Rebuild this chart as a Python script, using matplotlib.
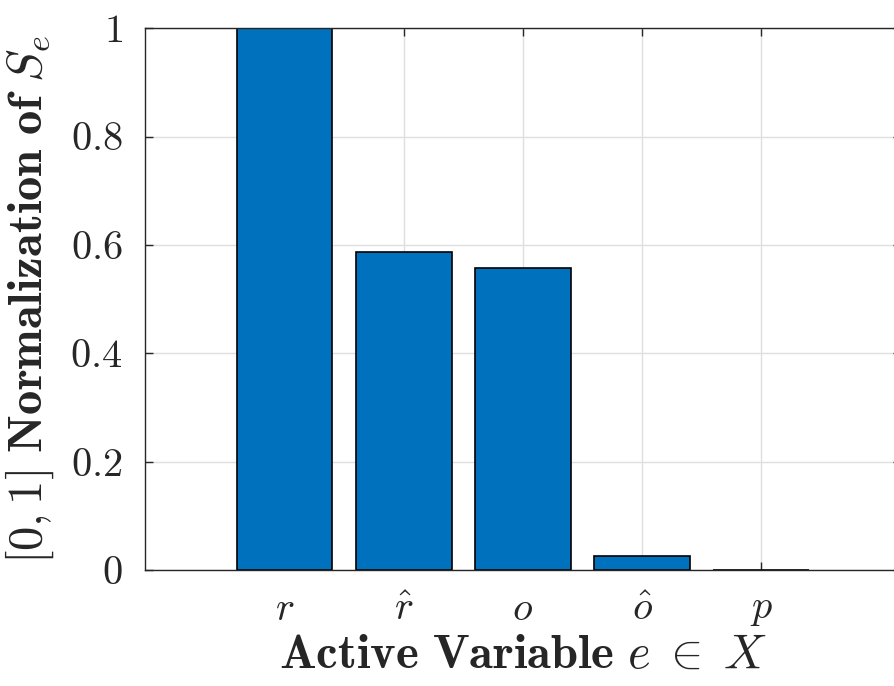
import numpy as np
import matplotlib.pyplot as plt

plt.rcParams['mathtext.fontset'] = 'cm'
plt.rcParams['font.family'] = 'serif'
plt.rcParams['font.serif'] = ['cmr10', 'DejaVu Serif']
plt.rcParams['axes.formatter.use_mathtext'] = True
plt.rcParams['text.color'] = '#262626'
plt.rcParams['axes.labelcolor'] = '#262626'
plt.rcParams['xtick.labelcolor'] = '#262626'
plt.rcParams['ytick.labelcolor'] = '#262626'

# normalized sensitivity per active variable
variables = [r'$r$', r'$\hat{r}$', r'$o$', r'$\hat{o}$', r'$p$']
scores = [1.0, 0.587, 0.558, 0.026, 0.001]
yticks = [0, 0.2, 0.4, 0.6, 0.8, 1]
ytick_labels = ['$0$', '$0.2$', '$0.4$', '$0.6$', '$0.8$', '$1$']

fig = plt.figure(figsize=(8.94, 6.86), dpi=100)
# axes runs slightly past the right edge of the figure
ax = fig.add_axes([0.162, 0.169, 0.846, 0.790])

pos = np.arange(1, len(scores) + 1)
ax.bar(pos, scores, width=0.8, color='#0072BD', edgecolor='black',
       linewidth=1.2, zorder=3)

ax.set_xlim(-0.176, 6.176)
ax.set_ylim(0, 1)
ax.set_xticks(pos)
ax.set_xticklabels(variables, fontsize=29)
ax.set_yticks(yticks)
ax.set_yticklabels(ytick_labels, fontsize=29)

ax.grid(True, color='#dfdfdf', linewidth=1.0, zorder=0)
ax.set_axisbelow(True)
for s in ax.spines.values():
    s.set_color('#262626')
    s.set_linewidth(1.0)
    s.set_zorder(4)
ax.tick_params(direction='in', length=6, width=1.0, color='#262626',
               top=True, right=True)
ax.tick_params(axis='y', pad=16)
ax.tick_params(axis='x', pad=16)

ax.set_xlabel(r'$\mathbf{Active\ Variable}\ e\;\in\;X$', fontsize=35, labelpad=4)
ax.set_ylabel(r'$[0,1]\ \mathbf{Normalization\ of}\ S_e$', fontsize=35, labelpad=10)

fig.savefig('out.png', dpi=100)
